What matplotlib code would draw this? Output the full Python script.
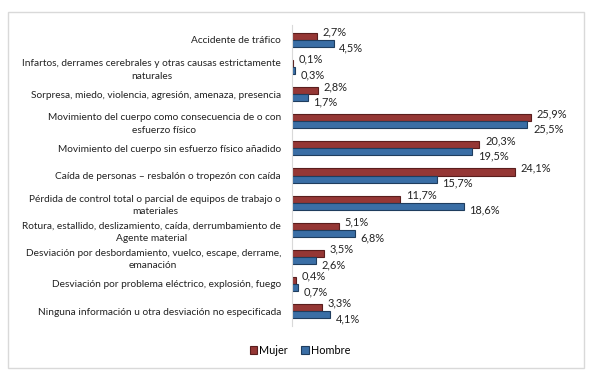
import matplotlib
matplotlib.use("Agg")
import matplotlib.pyplot as plt
from matplotlib.patches import Rectangle
import numpy as np

categories = [
    "Accidente de tráfico",
    "Infartos, derrames cerebrales y otras causas estrictamente\nnaturales",
    "Sorpresa, miedo, violencia, agresión, amenaza, presencia",
    "Movimiento del cuerpo como consecuencia de o con\nesfuerzo físico",
    "Movimiento del cuerpo sin esfuerzo físico añadido",
    "Caída de personas – resbalón o tropezón con caída",
    "Pérdida de control total o parcial de equipos de trabajo o\nmateriales",
    "Rotura, estallido, deslizamiento, caída, derrumbamiento de\nAgente material",
    "Desviación por desbordamiento, vuelco, escape, derrame,\nemanación",
    "Desviación por problema eléctrico, explosión, fuego",
    "Ninguna información u otra desviación no especificada",
]
mujer = [2.7, 0.1, 2.8, 25.9, 20.3, 24.1, 11.7, 5.1, 3.5, 0.4, 3.3]
hombre = [4.5, 0.3, 1.7, 25.5, 19.5, 15.7, 18.6, 6.8, 2.6, 0.7, 4.1]
series_names = ["Mujer", "Hombre"]

plt.rcParams['font.family'] = ['Lato', 'DejaVu Sans']
FS = 7.3
FSV = 7.9
c_m, e_m = "#953735", "#5a1e1d"
c_h, e_h = "#3a6ea5", "#1f3d5e"

fig = plt.figure(figsize=(5.93, 3.79), dpi=100)
fig.patches.append(Rectangle((8/593, 1-368/379), (584-8)/593, (368-12)/379,
                             transform=fig.transFigure, fill=False,
                             edgecolor="#d9d9d9", linewidth=1.0))

ax = fig.add_axes([292/593, 53/379, 277/593, 301/379])
y = np.arange(len(categories))
h = 0.26
ax.barh(y - h/2, mujer, height=h, color=c_m, edgecolor=e_m, linewidth=0.8, label=series_names[0])
ax.barh(y + h/2, hombre, height=h, color=c_h, edgecolor=e_h, linewidth=0.8, label=series_names[1])

for i in range(len(categories)):
    ax.annotate(f"{mujer[i]:.1f}%".replace(".", ","), (mujer[i], y[i] - h/2),
                xytext=(4, 3), textcoords="offset points", ha="left", va="center",
                fontsize=FSV, color="#222222")
    ax.annotate(f"{hombre[i]:.1f}%".replace(".", ","), (hombre[i], y[i] + h/2),
                xytext=(4, -3), textcoords="offset points", ha="left", va="center",
                fontsize=FSV, color="#222222")

ax.set_ylim(10.55, -0.55)
ax.set_xlim(0, 30)
ax.set_yticks(y)
ax.set_yticklabels(categories, fontsize=FS, multialignment="center", color="#222222",
                   linespacing=1.5)
ax.tick_params(axis="y", length=0, pad=8)
ax.set_xticks([])
for s in ["top", "right", "bottom"]:
    ax.spines[s].set_visible(False)
ax.spines["left"].set_color("#d9d9d9")

fig.legend(loc="center", bbox_to_anchor=(300/593, 1-350/379), ncol=2, frameon=False,
           fontsize=7.8, handlelength=0.7, handleheight=0.7, handletextpad=0.2,
           columnspacing=1.2)

fig.savefig("out.png", dpi=100)
